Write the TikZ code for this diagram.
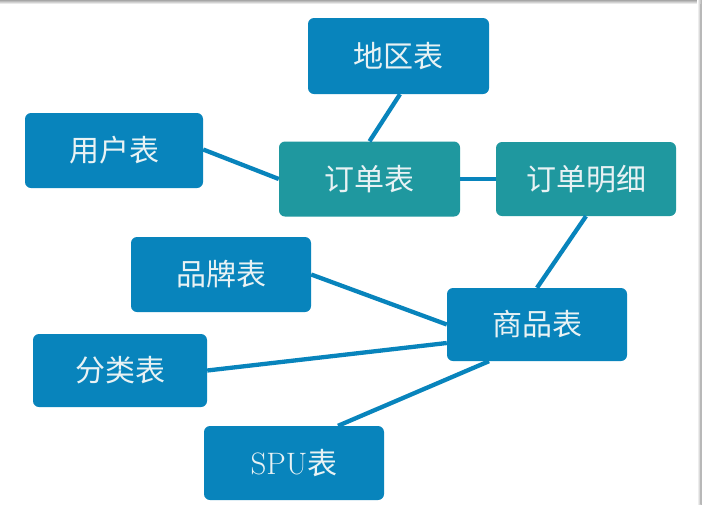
\documentclass[tikz,border=0pt]{standalone}
\usepackage{fontspec}
\newfontfamily\cjk{Noto Sans CJK SC}
\definecolor{boxblue}{RGB}{8,132,188}
\definecolor{boxteal}{RGB}{31,152,159}
\definecolor{txtc}{RGB}{232,242,244}
\begin{document}
\begin{tikzpicture}[x=1pt,y=-1pt,
  tbl/.style={draw=none,fill=boxblue,rounded corners=6pt,text=txtc,
     font=\fontsize{30}{30}\selectfont\cjk,inner sep=0pt,
     minimum width=180pt,minimum height=75pt},
  tealbox/.style={tbl,fill=boxteal},
  link/.style={draw=boxblue,line width=4.3pt}]
\useasboundingbox (0,0) rectangle (702,504);
\fill[white] (0,0) rectangle (702,504);
\shade[top color=black!35,bottom color=white] (0,0) rectangle (702,4);
\shade[left color=white,right color=black!35] (697,0) rectangle (702,504);
\fill[black!28] (699.5,4) rectangle (702,504);

\node[tbl,minimum width=181pt,minimum height=76pt] (dq) at (398.5,56) {地区表};
\node[tbl,minimum width=178pt] (yh) at (114,150.5) {用户表};
\node[tealbox,minimum width=181pt] (dd) at (369.5,179) {订单表};
\node[tealbox,minimum height=74pt] (mx) at (586,179) {订单明细};
\node[tbl] (pp) at (221,274.5) {品牌表};
\node[tbl,minimum height=73pt] (sp) at (537,324.5) {商品表};
\node[tbl,minimum width=174pt,minimum height=73pt] (fl) at (120,370.5) {分类表};
\node[tbl,minimum height=74pt,font=\fontsize{31}{31}\selectfont] (spu) at (294,463) {SPU{\cjk\fontsize{30}{30}\selectfont 表}};

\draw[link] ([xshift=1.5pt]dq.south) -- (dd.north);
\draw[link] ([yshift=1pt]yh.east) -- (dd.west);
\draw[link] (dd.east) -- (mx.west);
\draw[link] (mx.south) -- (sp.north);
\draw[link] (pp.east) -- (sp.west);
\draw[link] (fl.east) -- ([yshift=-18.5pt]sp.west);
\draw[link] ([xshift=44pt]spu.north) -- ([xshift=-48pt]sp.south);
\end{tikzpicture}
\end{document}
